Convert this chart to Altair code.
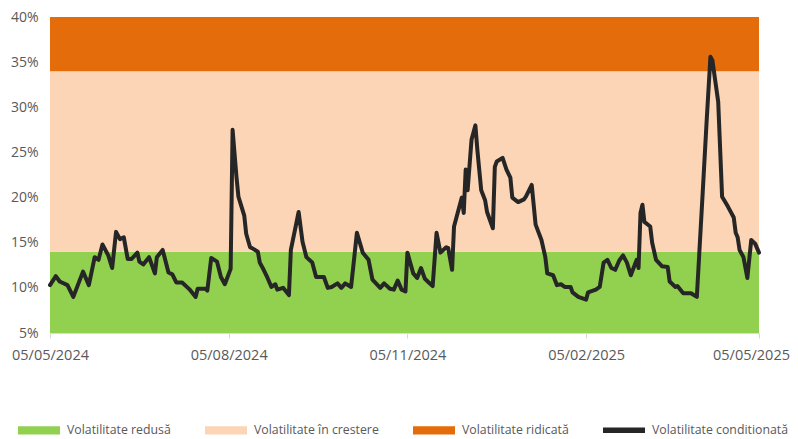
import altair as alt
import pandas as pd

# ---- data ----
day_offsets = [0, 3, 5, 9, 12, 17, 20, 23, 25, 27, 30, 32, 34, 36, 38, 40, 42, 45, 46, 48,
               51, 54, 55, 58, 61, 63, 65, 68, 71, 72, 75, 76, 80, 81, 83, 86, 88, 90, 93, 94,
               96, 97, 100, 101, 103, 104, 107, 108, 110, 112, 114, 116, 117, 120, 123, 124,
               128, 130, 132, 135, 137, 141, 143, 145, 148, 150, 152, 155, 158, 161, 164, 166,
               170, 172, 175, 177, 179, 181, 183, 184, 187, 189, 191, 193, 195, 197, 199, 201,
               204, 205, 207, 208, 210, 212, 213, 214, 215, 217, 219, 220, 222, 224, 225, 228,
               229, 230, 233, 235, 237, 238, 241, 244, 245, 248, 250, 253, 255, 256, 259, 261,
               263, 265, 268, 269, 272, 276, 277, 281, 283, 285, 287, 289, 291, 293, 295, 297,
               299, 302, 303, 304, 305, 306, 309, 310, 312, 315, 318, 319, 322, 323, 326, 330,
               333, 336, 338, 340, 341, 344, 346, 349, 352, 353, 354, 355, 357, 359, 361, 363, 365]
volatility = [10.3, 11.3, 10.7, 10.3, 9.0, 11.8, 10.3, 13.4, 13.1, 14.8, 13.6, 12.2, 16.2, 15.4,
              15.6, 13.2, 13.2, 13.9, 12.9, 12.6, 13.4, 11.6, 13.4, 14.2, 11.7, 11.5, 10.6, 10.6,
              10.0, 9.8, 9.0, 9.9, 9.9, 9.7, 13.3, 12.9, 11.2, 10.4, 12.1, 27.5, 22.3, 20.1, 18.0,
              16.0, 14.5, 14.4, 14.0, 12.8, 12.0, 11.1, 10.1, 10.4, 9.8, 10.0, 9.2, 14.2, 18.4,
              15.1, 13.4, 12.8, 11.2, 11.2, 10.0, 10.1, 10.5, 10.0, 10.5, 10.1, 16.1, 13.9, 13.1,
              10.9, 10.0, 10.5, 9.9, 9.8, 10.8, 9.8, 9.6, 13.9, 11.6, 11.1, 12.2, 11.0, 10.6, 10.2,
              16.1, 13.9, 14.5, 14.4, 12.0, 16.8, 18.4, 20.0, 18.3, 23.1, 20.8, 26.4, 28.0, 25.3,
              20.8, 19.7, 18.4, 16.6, 23.4, 24.0, 24.4, 23.1, 22.2, 20.0, 19.5, 19.8, 20.1, 21.4,
              17.0, 15.3, 13.4, 11.6, 11.4, 10.3, 10.4, 10.1, 10.1, 9.5, 9.0, 8.7, 9.5, 9.8, 10.1,
              12.8, 13.1, 12.2, 12.0, 13.0, 13.6, 12.8, 11.4, 13.1, 12.2, 18.3, 19.2, 17.3, 16.8,
              15.0, 13.1, 12.4, 12.3, 10.7, 10.1, 10.2, 9.4, 9.4, 9.0, 20.5, 28.3, 35.6, 35.2,
              30.6, 20.1, 19.0, 17.8, 16.1, 15.6, 14.2, 13.4, 11.1, 15.3, 14.9, 13.9]
start_date = "2024-05-05"

band_labels = ["Volatilitate redusă", "Volatilitate în crestere", "Volatilitate ridicată"]
band_low = [5, 14, 34]
band_high = [14, 34, 40]
line_label = "Volatilitate conditionată"
legend_colors = ["#92D050", "#FBD5B5", "#E46C0A", "#262626"]
y_ticks = [5, 10, 15, 20, 25, 30, 35, 40]
x_ticks = [(2024, 5, 5), (2024, 8, 5), (2024, 11, 5), (2025, 2, 5), (2025, 5, 5)]

assert len(day_offsets) == len(volatility)
base = pd.Timestamp(start_date)
line_df = pd.DataFrame({
    "date": [(base + pd.Timedelta(days=d)).strftime("%Y-%m-%dT00:00:00") for d in day_offsets],
    "v": volatility,
})
band_df = pd.DataFrame({"label": band_labels, "lo": band_low, "hi": band_high})

FONT = "Open Sans"
GREY = "#595959"

y_scale = alt.Scale(domain=[5, 40], nice=False, zero=False)
y_axis = alt.Axis(values=y_ticks, labelExpr="datum.value + '%'", domain=False, ticks=False,
                  grid=False, title=None, labelFont=FONT, labelFontSize=14, labelColor=GREY,
                  labelPadding=12)

last_tick = "time(datetime(2025, 4, 1))"
x_axis = alt.Axis(values=[alt.DateTime(year=a, month=b, date=c) for a, b, c in x_ticks],
                  format="%d/%m/%Y", grid=False, title=None, domainColor="#D9D9D9",
                  tickColor="#D9D9D9", tickSize=5, labelPadding=10, labelFont=FONT,
                  labelFontSize=14.5, labelColor=GREY, labelFlush=False,
                  labelOffset={"condition": {"test": f"datum.value > {last_tick}", "value": -8},
                               "value": 0})

rect_shape = "M-1,-0.2H1V0.2H-1Z"
line_shape = "M-1,-0.13H1V0.13H-1Z"

bands = alt.Chart(band_df).mark_rect().encode(
    y=alt.Y("lo:Q", scale=y_scale, axis=y_axis),
    y2="hi:Q",
    color=alt.Color(
        "label:N",
        scale=alt.Scale(domain=band_labels + [line_label], range=legend_colors),
        legend=alt.Legend(
            orient="none", legendX=-32, legendY=392, direction="horizontal", title=None,
            symbolType=alt.ExprRef(
                f"datum.value === '{line_label}' ? '{line_shape}' : '{rect_shape}'"),
            symbolSize=1764, symbolStrokeWidth=0, symbolOpacity=1,
            labelFont=FONT, labelFontSize=12.3, labelColor=GREY, labelOffset=7,
            columnPadding=34, padding=0,
        ),
    ),
)

line = alt.Chart(line_df).mark_line(
    color="#262626", strokeWidth=4, strokeJoin="round", strokeCap="round"
).encode(
    x=alt.X("date:T", scale=alt.Scale(domain=[alt.DateTime(year=2024, month=5, date=5),
                                              alt.DateTime(year=2025, month=5, date=5)]),
            axis=x_axis),
    y=alt.Y("v:Q", scale=y_scale, axis=y_axis),
)

chart = alt.layer(bands, line).properties(
    width=709, height=316,
    autosize=alt.AutoSizeParams(type="none"),
    padding={"left": 42, "top": 9, "right": 31, "bottom": 104},
).configure_view(stroke=None)

chart.save("out.html", embed_options={"renderer": "svg", "actions": False})
